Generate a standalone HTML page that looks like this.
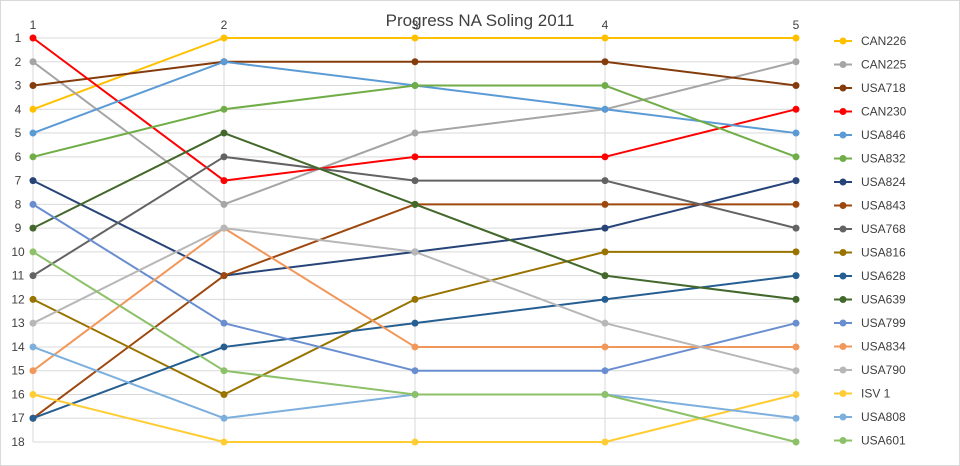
<!DOCTYPE html>
<html><head><meta charset="utf-8"><style>body{margin:0;background:#fff}svg{display:block}</style></head><body>
<svg id="s" width="960" height="466" xmlns="http://www.w3.org/2000/svg" font-family="Liberation Sans, sans-serif">
<rect x="0.5" y="0.5" width="959" height="465" fill="#fff" stroke="#d9d9d9"/>
<text x="480" y="26" text-anchor="middle" font-size="17" fill="#404040">Progress NA Soling 2011</text>
<g id="grid"></g><g id="ser"></g><g id="leg"></g>
</svg>
<script>
const X=[33,224,415,605,796],Y=r=>38+(r-1)*(404/17);
const ns="http://www.w3.org/2000/svg";
function el(p,t,a,txt){const e=document.createElementNS(ns,t);for(const k in a)e.setAttribute(k,a[k]);if(txt!==undefined)e.textContent=txt;p.appendChild(e);return e;}
const g=document.getElementById('grid');
for(let r=1;r<=18;r++){el(g,'line',{x1:33,x2:796,y1:Y(r),y2:Y(r),stroke:'#d9d9d9','stroke-width':1});
el(g,'text',{x:18,y:Y(r)+4,'text-anchor':'middle','font-size':12,fill:'#404040'},r);}
X.forEach((x,i)=>{el(g,'line',{x1:x,x2:x,y1:38,y2:442,stroke:'#d9d9d9','stroke-width':1});
el(g,'text',{x:x,y:29,'text-anchor':'middle','font-size':12,fill:'#404040'},i+1);});
const S=[
["CAN226","#FFC000",[4,1,1,1,1]],
["CAN225","#A5A5A5",[2,8,5,4,2]],
["USA718","#843C0C",[3,2,2,2,3]],
["CAN230","#FF0000",[1,7,6,6,4]],
["USA846","#5B9BD5",[5,2,3,4,5]],
["USA832","#70AD47",[6,4,3,3,6]],
["USA824","#264478",[7,11,10,9,7]],
["USA843","#9E480E",[17,11,8,8,8]],
["USA768","#636363",[11,6,7,7,9]],
["USA816","#997300",[12,16,12,10,10]],
["USA628","#255E91",[17,14,13,12,11]],
["USA639","#43682B",[9,5,8,11,12]],
["USA799","#698ED0",[8,13,15,15,13]],
["USA834","#F1975A",[15,9,14,14,14]],
["USA790","#B7B7B7",[13,9,10,13,15]],
["ISV 1","#FFCD33",[16,18,18,18,16]],
["USA808","#7CAFDD",[14,17,16,16,17]],
["USA601","#8CC168",[10,15,16,16,18]]];
const s=document.getElementById('ser'),l=document.getElementById('leg');
S.forEach((d,i)=>{
 el(s,'polyline',{points:d[2].map((r,j)=>X[j]+','+Y(r)).join(' '),fill:'none',stroke:d[1],'stroke-width':2,'stroke-linejoin':'round'});
 d[2].forEach((r,j)=>el(s,'circle',{cx:X[j],cy:Y(r),r:3.5,fill:d[1]}));
 const ly=41+i*23.5;
 el(l,'line',{x1:834,x2:852,y1:ly,y2:ly,stroke:d[1],'stroke-width':2});
 el(l,'circle',{cx:843,cy:ly,r:3.5,fill:d[1]});
 el(l,'text',{x:861,y:ly+4,'font-size':12,fill:'#404040'},d[0]);
});
</script>
</body></html>
